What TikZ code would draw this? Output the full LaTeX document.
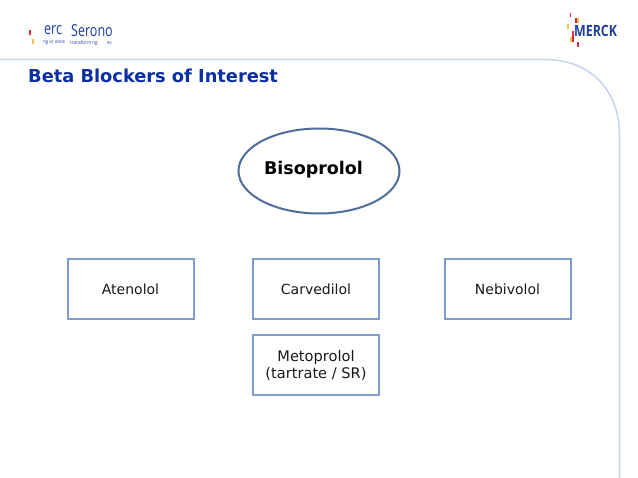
\documentclass[tikz,border=0pt]{standalone}
\usepackage{fontspec}
\setmainfont{DejaVu Sans}
\newfontfamily\logofont{Open Sans}
\definecolor{boxblue}{HTML}{7F9BD0}
\definecolor{ellblue}{HTML}{4F6D9A}
\definecolor{titleblue}{HTML}{0B2FA0}
\definecolor{ruleblue}{HTML}{C5D3EE}
\definecolor{logoblue}{HTML}{1F3F9F}
\definecolor{markred}{HTML}{D22F3F}
\definecolor{markyellow}{HTML}{F2C14E}
\tikzset{
 x=1pt,y=-1pt,
 drugbox/.style={draw=boxblue,line width=2pt,minimum width=126pt,minimum height=60pt,inner sep=0pt,align=center,font=\fontsize{14}{17}\selectfont,text=black!90},
 redmark/.style={fill=markred,draw=none},
 yellowmark/.style={fill=markyellow,draw=none},
 frameline/.style={draw=ruleblue,line width=1.5pt},
 bigsero/.style={anchor=west,inner sep=0pt,font=\logofont\fontsize{16.5}{18}\selectfont,text=logoblue,xscale=.76},
 smallsero/.style={anchor=west,inner sep=0pt,font=\logofont\fontsize{5}{6}\selectfont,text=logoblue,xscale=.9},
}
\begin{document}
\begin{tikzpicture}
\useasboundingbox (0,0) rectangle (638,478);
\fill[white] (0,0) rectangle (638,478);
\draw[frameline] (0,59.5) -- (545,59.5) .. controls (590,59.5) and (619.5,90) .. (619.5,135) -- (619.5,478);
\node[anchor=west,inner sep=0pt,font=\fontsize{17.8}{20}\selectfont\bfseries,text=titleblue] (title) at (28,76) {Beta Blockers of Interest};
\node[bigsero] (logoA) at (44,30.5) {erc};
\node[bigsero] (logoB) at (71,30.5) {Serono};
\node[smallsero] (logoC) at (43,43) {ng sc ence};
\node[smallsero] (logoD) at (70,43) {transform ng};
\node[smallsero] (logoE) at (107,43) {es};
\fill[redmark] (28.5,30.5) rectangle (30.5,35);
\fill[yellowmark] (31.7,39) rectangle (33.5,44.5);
\node[anchor=west,inner sep=0pt,font=\logofont\bfseries\fontsize{15.5}{17}\selectfont,text=logoblue,xscale=.8] (merck) at (574,30.5) {MERCK};
\fill[redmark] (569.5,13) rectangle (571.2,17.5);
\fill[redmark] (574.5,18) rectangle (576.5,23);
\fill[yellowmark] (576.5,18) rectangle (578.5,23);
\fill[yellowmark] (567,24) rectangle (568.8,29);
\fill[redmark] (572,31) rectangle (574,36);
\fill[yellowmark] (569.5,37) rectangle (571.5,42);
\fill[redmark] (571.5,36) rectangle (573.5,42);
\fill[redmark] (577,42) rectangle (578.7,47);
\draw[draw=ellblue,line width=2pt] (319,171) ellipse [x radius=80.5,y radius=42.5];
\node[inner sep=0pt,font=\fontsize{17.5}{20}\selectfont\bfseries] (bis) at (313.5,169.5) {Bisoprolol};
\node[drugbox] (ate) at (130.5,289) {\raisebox{-1pt}{Atenolol}};
\node[drugbox] (car) at (316,289) {\raisebox{-1pt}{Carvedilol}};
\node[drugbox] (neb) at (507.5,289) {\raisebox{-1pt}{Nebivolol}};
\node[drugbox,font=\fontsize{14.6}{17}\selectfont] (met) at (316,365) {\raisebox{-2.5pt}{Metoprolol}\\\raisebox{-2.5pt}{(tartrate / SR)}};
\end{tikzpicture}
\end{document}
